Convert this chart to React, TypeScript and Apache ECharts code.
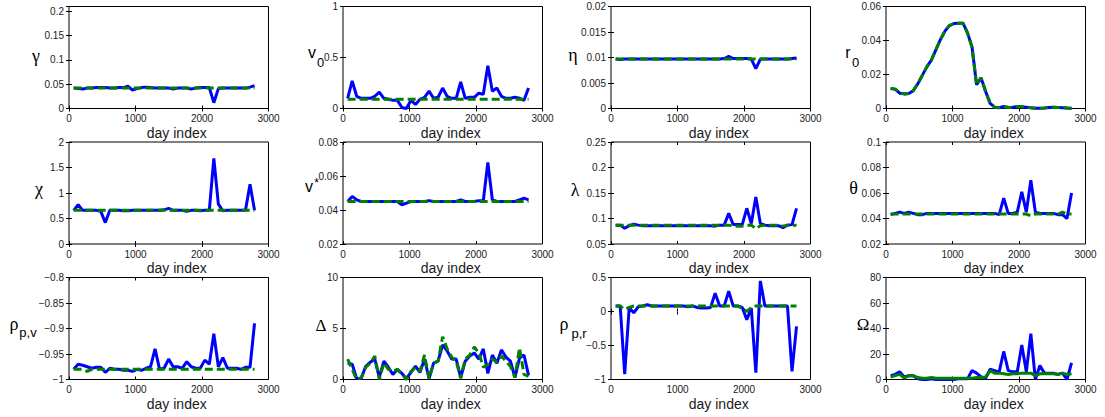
import React, { useEffect, useRef } from 'react';
import * as echarts from 'echarts';

// ---------------- data ----------------
const days = [70,138,206,274,342,410,478,546,614,682,750,818,886,954,1022,1090,1158,1226,1294,1362,1430,1498,1566,1634,1702,1770,1838,1906,1974,2042,2110,2178,2246,2314,2382,2450,2518,2586,2654,2722,2790];

const xTicks = [0, 1000, 2000, 3000];

const gammaEst = [0.042,0.041,0.040,0.042,0.042,0.043,0.043,0.043,0.042,0.042,0.043,0.043,0.046,0.038,0.041,0.043,0.044,0.043,0.042,0.042,0.042,0.042,0.040,0.042,0.042,0.042,0.040,0.042,0.043,0.043,0.043,0.012,0.041,0.042,0.042,0.042,0.042,0.042,0.042,0.044,0.047];
const gammaTrue = [0.042,0.042,0.042,0.042,0.042,0.042,0.042,0.042,0.042,0.042,0.042,0.042,0.042,0.042,0.042,0.042,0.042,0.042,0.042,0.042,0.042,0.042,0.042,0.042,0.042,0.042,0.042,0.042,0.042,0.042,0.042,0.042,0.042,0.042,0.042,0.042,0.042,0.042,0.042,0.042,0.042];

const v0Est = [0.10,0.27,0.12,0.10,0.10,0.10,0.12,0.16,0.10,0.09,0.08,0.08,0.01,0.00,0.08,0.04,0.09,0.11,0.17,0.10,0.11,0.20,0.12,0.10,0.10,0.26,0.10,0.11,0.11,0.15,0.14,0.42,0.17,0.20,0.12,0.10,0.10,0.11,0.10,0.08,0.20];
const v0True = [0.09,0.09,0.09,0.09,0.09,0.09,0.09,0.09,0.09,0.09,0.09,0.09,0.09,0.09,0.09,0.09,0.09,0.09,0.09,0.09,0.09,0.09,0.09,0.09,0.09,0.09,0.09,0.09,0.09,0.09,0.09,0.09,0.09,0.09,0.09,0.09,0.09,0.09,0.09,0.09,0.09];

const etaEst = [0.0097,0.0096,0.0097,0.0097,0.0097,0.0097,0.0097,0.0097,0.0097,0.0097,0.0097,0.0097,0.0097,0.0097,0.0097,0.0097,0.0097,0.0097,0.0097,0.0097,0.0097,0.0097,0.0097,0.0097,0.0098,0.0102,0.0098,0.0098,0.0098,0.0098,0.0097,0.0078,0.0097,0.0097,0.0097,0.0097,0.0097,0.0097,0.0097,0.0098,0.0099];
const etaTrue = [0.0097,0.0097,0.0097,0.0097,0.0097,0.0097,0.0097,0.0097,0.0097,0.0097,0.0097,0.0097,0.0097,0.0097,0.0097,0.0097,0.0097,0.0097,0.0097,0.0097,0.0097,0.0097,0.0097,0.0097,0.0097,0.0097,0.0097,0.0097,0.0097,0.0097,0.0097,0.0097,0.0097,0.0097,0.0097,0.0097,0.0097,0.0097,0.0097,0.0097,0.0097];

const r0Est = [0.0118,0.0114,0.0090,0.0086,0.0088,0.0105,0.0145,0.0195,0.0245,0.0285,0.0345,0.0405,0.0455,0.0488,0.0500,0.0502,0.0502,0.0445,0.0360,0.0140,0.0180,0.0100,0.0030,0.0008,0.0005,0.0012,0.0006,0.0008,0.0012,0.0010,0.0008,0.0004,0.0001,0.0001,0.0003,0.0006,0.0007,0.0006,0.0005,0.0003,0.0002];
const r0True = [0.0118,0.0114,0.0090,0.0086,0.0088,0.0105,0.0145,0.0195,0.0245,0.0285,0.0345,0.0405,0.0455,0.0488,0.0500,0.0502,0.0502,0.0445,0.0360,0.0140,0.0180,0.0100,0.0030,0.0008,0.0005,0.0012,0.0006,0.0008,0.0012,0.0010,0.0008,0.0004,0.0001,0.0001,0.0003,0.0006,0.0007,0.0006,0.0005,0.0003,0.0002];

const chiEst = [0.66,0.77,0.66,0.66,0.66,0.66,0.64,0.42,0.66,0.66,0.66,0.65,0.65,0.66,0.66,0.66,0.66,0.66,0.66,0.66,0.67,0.70,0.66,0.66,0.66,0.64,0.66,0.66,0.65,0.66,0.66,1.68,0.78,0.65,0.66,0.66,0.66,0.66,0.66,1.17,0.66];
const chiTrue = [0.66,0.66,0.66,0.66,0.66,0.66,0.66,0.66,0.66,0.66,0.66,0.66,0.66,0.66,0.66,0.66,0.66,0.66,0.66,0.66,0.66,0.66,0.66,0.66,0.66,0.66,0.66,0.66,0.66,0.66,0.66,0.66,0.66,0.66,0.66,0.66,0.66,0.66,0.66,0.66,0.66];

const vStarEst = [0.045,0.048,0.046,0.045,0.045,0.045,0.045,0.045,0.045,0.045,0.045,0.045,0.043,0.044,0.045,0.045,0.045,0.045,0.0455,0.045,0.045,0.045,0.045,0.045,0.045,0.046,0.045,0.045,0.045,0.0455,0.0455,0.068,0.046,0.045,0.045,0.045,0.045,0.045,0.046,0.047,0.046];
const vStarTrue = [0.045,0.045,0.045,0.045,0.045,0.045,0.045,0.045,0.045,0.045,0.045,0.045,0.045,0.045,0.045,0.045,0.045,0.045,0.045,0.045,0.045,0.045,0.045,0.045,0.045,0.045,0.045,0.045,0.045,0.045,0.045,0.045,0.045,0.045,0.045,0.045,0.045,0.045,0.045,0.045,0.045];

const lambdaEst = [0.087,0.087,0.081,0.086,0.089,0.087,0.086,0.086,0.086,0.086,0.086,0.086,0.086,0.086,0.086,0.086,0.086,0.086,0.086,0.086,0.086,0.086,0.085,0.087,0.087,0.110,0.088,0.088,0.088,0.120,0.090,0.142,0.090,0.087,0.086,0.086,0.086,0.082,0.087,0.088,0.120];
const lambdaTrue = [0.087,0.087,0.087,0.087,0.087,0.087,0.087,0.087,0.087,0.087,0.087,0.087,0.087,0.087,0.087,0.087,0.087,0.087,0.087,0.087,0.087,0.087,0.087,0.087,0.087,0.087,0.085,0.085,0.085,0.087,0.087,0.080,0.086,0.087,0.087,0.087,0.087,0.085,0.087,0.087,0.087];

const thetaEst = [0.043,0.044,0.045,0.044,0.045,0.044,0.043,0.043,0.044,0.044,0.044,0.044,0.044,0.044,0.044,0.044,0.044,0.044,0.044,0.044,0.044,0.044,0.044,0.044,0.043,0.056,0.044,0.044,0.045,0.061,0.045,0.070,0.045,0.044,0.044,0.044,0.044,0.043,0.043,0.040,0.060];
const thetaTrue = [0.0435,0.0435,0.0435,0.0435,0.0435,0.0435,0.0435,0.0435,0.0435,0.0435,0.0435,0.0435,0.0435,0.0435,0.0435,0.0435,0.0435,0.0435,0.0435,0.0435,0.0435,0.0435,0.0435,0.0435,0.0435,0.0435,0.0435,0.0435,0.0435,0.0435,0.0435,0.042,0.0435,0.0435,0.0435,0.0435,0.0435,0.0435,0.045,0.0435,0.0435];

const rhoPVEst = [-0.980,-0.970,-0.972,-0.975,-0.978,-0.976,-0.976,-0.986,-0.978,-0.980,-0.980,-0.982,-0.982,-0.984,-0.980,-0.982,-0.978,-0.975,-0.940,-0.980,-0.978,-0.960,-0.975,-0.975,-0.978,-0.965,-0.975,-0.978,-0.978,-0.962,-0.970,-0.910,-0.975,-0.957,-0.978,-0.978,-0.978,-0.980,-0.976,-0.976,-0.890];
const rhoPVTrue = [-0.980,-0.980,-0.980,-0.984,-0.980,-0.980,-0.980,-0.980,-0.980,-0.980,-0.980,-0.980,-0.980,-0.980,-0.980,-0.980,-0.980,-0.980,-0.980,-0.980,-0.980,-0.980,-0.980,-0.980,-0.980,-0.980,-0.980,-0.980,-0.980,-0.980,-0.980,-0.980,-0.980,-0.980,-0.980,-0.980,-0.980,-0.980,-0.980,-0.980,-0.980];

const deltaEst = [1.6,1.5,0.1,0.1,1.3,1.7,2.0,0.2,1.8,1.2,0.5,1.0,0.6,0.1,0.7,1.3,0.7,2.0,0.1,1.6,1.8,3.4,2.8,2.0,2.0,0.2,1.8,2.3,2.6,2.0,3.0,0.6,2.4,1.6,2.9,2.2,1.8,0.2,2.1,2.4,0.4];
const deltaTrue = [2.0,1.0,0.0,0.2,1.2,1.6,2.3,0.0,1.6,1.0,0.8,1.0,0.5,0.0,0.8,1.2,0.8,2.4,0.1,1.6,1.8,4.2,3.0,2.2,1.8,0.1,2.0,2.4,3.2,2.6,1.2,1.5,2.0,1.7,2.3,1.8,1.3,0.2,3.1,0.5,0.3];

const rhoPREst = [0.08,0.08,-0.92,0.06,-0.02,0.07,0.08,0.10,0.08,0.08,0.08,0.08,0.08,0.08,0.08,0.08,0.07,0.08,0.06,0.05,0.05,0.06,0.27,0.08,0.08,0.30,0.08,0.08,0.06,-0.12,0.05,-0.90,0.45,0.08,0.08,0.08,0.08,0.08,0.08,-0.88,-0.22];
const rhoPRTrue = [0.08,0.08,0.03,0.06,0.08,0.08,0.08,0.08,0.08,0.08,0.08,0.08,0.08,0.08,0.08,0.08,0.08,0.08,0.08,0.08,0.08,0.08,0.08,0.08,0.08,0.08,0.08,0.08,0.05,0.00,0.06,0.08,0.08,0.08,0.08,0.08,0.08,0.08,0.08,0.08,0.08];

const omegaEst = [3,4,6,2,3,3,0.5,0,0,0.5,0,0,0,0,0,0.5,0.5,0.5,7,5,2,1,8,7,6,22,7,6,6,27,6,36,0,11,5,5,5,4,5,0,13];
const omegaTrue = [2,3,4,1,3,3,1.5,1,1,1.5,1,1,1,1,1,1,1,1,1,1.5,1.5,2,7,5,5,4.5,4,4.5,4.5,5,5,5,3,4.5,4.5,4.5,4.5,4,5,4,4.5];

// ---------------- layout / style ----------------
const SANS = '"Liberation Sans", Arial, Helvetica, sans-serif';
const SERIF = '"Liberation Serif", "Times New Roman", serif';
const TEXT = '#1a1a1a';
const BLUE = '#0000ff';
const GREEN = '#008000';

const colLeft = [69, 343, 611, 886];
const rowTop = [6.5, 142, 277.5];
const gridW = 199.5;
const gridH = 102;

const panels = [
  { est: gammaEst, tru: gammaTrue, yMin: 0, yMax: 0.21, yStep: 0.05, dashed: true },
  { est: v0Est, tru: v0True, yMin: 0, yMax: 1, yStep: 0.5, dashed: true },
  { est: etaEst, tru: etaTrue, yMin: 0, yMax: 0.02, yStep: 0.005, dashed: true },
  { est: r0Est, tru: r0True, yMin: 0, yMax: 0.06, yStep: 0.02, dashed: true },
  { est: chiEst, tru: chiTrue, yMin: 0, yMax: 2, yStep: 0.5, dashed: true },
  { est: vStarEst, tru: vStarTrue, yMin: 0.02, yMax: 0.08, yStep: 0.02, dashed: true },
  { est: lambdaEst, tru: lambdaTrue, yMin: 0.05, yMax: 0.25, yStep: 0.05, dashed: true },
  { est: thetaEst, tru: thetaTrue, yMin: 0.02, yMax: 0.1, yStep: 0.02, dashed: true },
  { est: rhoPVEst, tru: rhoPVTrue, yMin: -1, yMax: -0.8, yStep: 0.05, dashed: true },
  { est: deltaEst, tru: deltaTrue, yMin: 0, yMax: 10, yStep: 5, dashed: true },
  { est: rhoPREst, tru: rhoPRTrue, yMin: -1, yMax: 0.5, yStep: 0.5, dashed: true },
  { est: omegaEst, tru: omegaTrue, yMin: 0, yMax: 80, yStep: 20, dashed: false },
];

// y-axis labels: [text, x, y, font family, size]
const yLabels: [string, number, number, string, number][] = [
  ['γ', 36, 56, SERIF, 18],
  ['v', 312, 52.5, SANS, 16], ['0', 320.5, 62, SANS, 13],
  ['η', 573, 55, SERIF, 18],
  ['r', 848, 52.5, SANS, 16], ['0', 855.5, 62, SANS, 13],
  ['χ', 39, 189, SERIF, 18],
  ['v', 309, 186.5, SANS, 16], ['*', 316.5, 183, SANS, 12],
  ['λ', 575, 190, SERIF, 18],
  ['θ', 853.5, 188, SERIF, 18],
  ['ρ', 14, 323.5, SERIF, 18], ['p,v', 28, 332, SANS, 13],
  ['Δ', 321, 325, SERIF, 17],
  ['ρ', 564, 323.5, SERIF, 18], ['p,r', 579, 333, SANS, 13],
  ['Ω', 863, 324, SERIF, 17],
];

function fmt(v: number) {
  return String(parseFloat(v.toPrecision(10))).replace('-', '\u2212');
}

function buildOption() {
  const grid: any[] = [];
  const xAxis: any[] = [];
  const yAxis: any[] = [];
  const series: any[] = [];
  const tick = { show: true, inside: true, length: 3, lineStyle: { color: '#000', width: 1 } };

  panels.forEach((p, i) => {
    const r = Math.floor(i / 4);
    const c = i % 4;
    grid.push({
      left: colLeft[c], top: rowTop[r], width: gridW, height: gridH,
      show: true, borderColor: '#000', borderWidth: 1, backgroundColor: '#fff',
    });
    const xCommon = {
      type: 'value', gridIndex: i, min: xTicks[0], max: xTicks[xTicks.length - 1],
      interval: xTicks[1] - xTicks[0], axisLine: { show: false }, splitLine: { show: false }, axisTick: tick,
    };
    xAxis.push({
      ...xCommon, position: 'bottom',
      axisLabel: { fontSize: 10, color: TEXT, fontFamily: SANS, margin: 5, formatter: (v: number) => fmt(v) },
      name: 'day index', nameLocation: 'middle', nameGap: 17,
      nameTextStyle: { fontSize: 14, color: TEXT, fontFamily: SANS, padding: [0, 0, 0, 16] },
    });
    xAxis.push({ ...xCommon, position: 'top', axisLabel: { show: false } });
    const yCommon = {
      type: 'value', gridIndex: i, min: p.yMin, max: p.yMax, interval: p.yStep,
      axisLine: { show: false }, splitLine: { show: false }, axisTick: tick,
    };
    yAxis.push({
      ...yCommon, position: 'left',
      axisLabel: {
        fontSize: 10, color: TEXT, fontFamily: SANS, margin: 5,
        formatter: (v: number) => {
          const k = (v - p.yMin) / p.yStep;
          if (Math.abs(k - Math.round(k)) > 1e-6) return '';
          return fmt(v);
        },
      },
    });
    yAxis.push({ ...yCommon, position: 'right', axisLabel: { show: false } });

    series.push({
      type: 'line', xAxisIndex: 2 * i, yAxisIndex: 2 * i,
      data: days.map((d, k) => [d, p.est[k]]),
      symbol: 'none', lineStyle: { color: BLUE, width: 3 }, z: 3,
    });
    series.push({
      type: 'line', xAxisIndex: 2 * i, yAxisIndex: 2 * i,
      data: days.map((d, k) => [d, p.tru[k]]),
      symbol: 'none',
      lineStyle: { color: GREEN, width: 3, type: p.dashed ? [8, 4] : 'solid' }, z: 4,
    });
  });

  const graphic = yLabels.map(([text, x, y, family, size]) => ({
    type: 'text', x, y, z: 100,
    style: { text, fontSize: size, fontFamily: family, fill: '#000', align: 'center', verticalAlign: 'middle' },
  }));

  return {
    animation: false,
    backgroundColor: '#fff',
    textStyle: { fontFamily: SANS },
    grid, xAxis, yAxis, series, graphic,
  };
}

export default function App() {
  const ref = useRef<HTMLDivElement>(null);
  useEffect(() => {
    const chart = echarts.init(ref.current!, null, { renderer: 'svg' });
    chart.setOption(buildOption() as any);
    return () => chart.dispose();
  }, []);
  return (
    <div
      ref={ref}
      style={{ position: 'fixed', left: 0, top: 0, width: 1105, height: 417, background: '#fff' }}
    />
  );
}
